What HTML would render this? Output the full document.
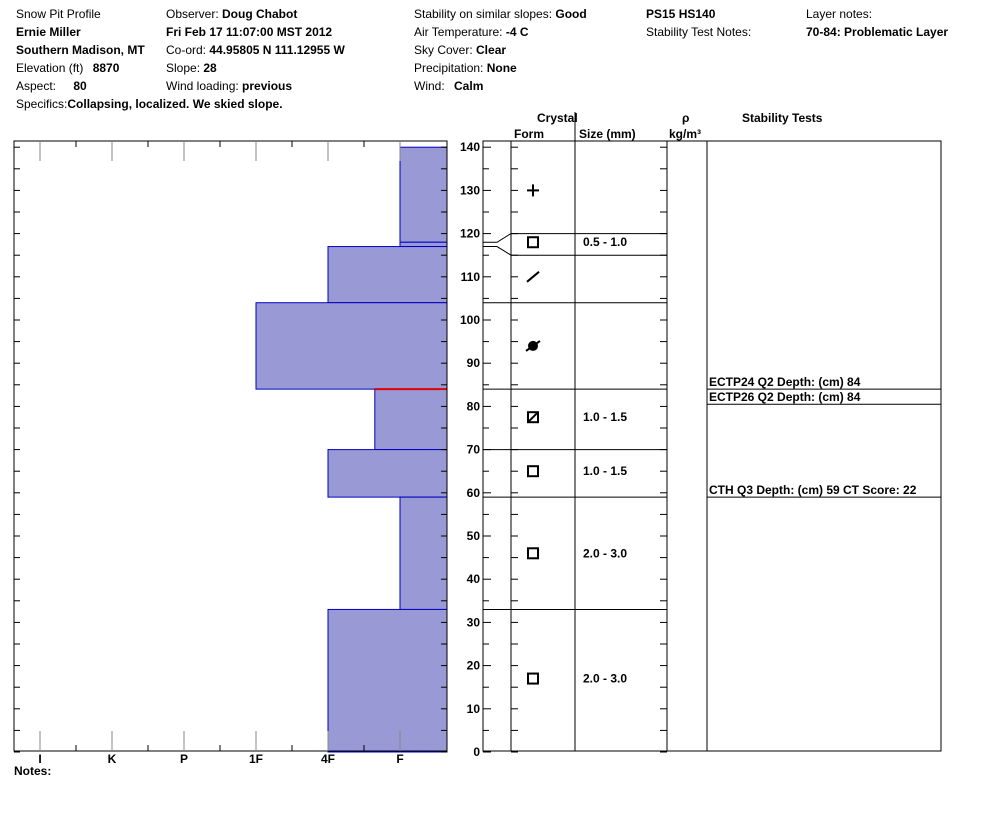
<!DOCTYPE html>
<html><head><meta charset="utf-8"><style>
body{margin:0;background:#fff;}
svg{display:block;font-family:"Liberation Sans",Arial,sans-serif;font-size:12px;}
.b{font-weight:bold;}
</style></head><body>
<svg width="994" height="840" viewBox="0 0 994 840">
<g font-size="12">
<text x="16" y="18">Snow Pit Profile</text>
<text x="16" y="36" class="b">Ernie Miller</text>
<text x="16" y="54" class="b">Southern Madison, MT</text>
<text x="16" y="72">Elevation (ft)  <tspan class="b" dx="6">8870</tspan></text>
<text x="16" y="90">Aspect:  <tspan class="b" dx="14">80</tspan></text>
<text x="16" y="108">Specifics:<tspan class="b">Collapsing, localized. We skied slope.</tspan></text>
<text x="166" y="18">Observer:  <tspan class="b">Doug Chabot</tspan></text>
<text x="166" y="36" class="b">Fri Feb 17 11:07:00 MST 2012</text>
<text x="166" y="54">Co-ord:  <tspan class="b">44.95805 N 111.12955 W</tspan></text>
<text x="166" y="72">Slope:  <tspan class="b">28</tspan></text>
<text x="166" y="90">Wind loading:  <tspan class="b">previous</tspan></text>
<text x="414" y="18">Stability on similar slopes:  <tspan class="b">Good</tspan></text>
<text x="414" y="36">Air Temperature:  <tspan class="b">-4 C</tspan></text>
<text x="414" y="54">Sky Cover:  <tspan class="b">Clear</tspan></text>
<text x="414" y="72">Precipitation:  <tspan class="b">None</tspan></text>
<text x="414" y="90">Wind:   <tspan class="b" dx="6">Calm</tspan></text>
<text x="646" y="18" class="b">PS15 HS140</text>
<text x="646" y="36">Stability Test Notes:</text>
<text x="806" y="18">Layer notes:</text>
<text x="806" y="36" class="b">70-84: Problematic Layer</text>
</g>
<g class="b">
<text x="537" y="122">Crystal</text>
<text x="514" y="138">Form</text>
<text x="579" y="138">Size (mm)</text>
<text x="682" y="122">ρ</text>
<text x="669" y="138">kg/m³</text>
<text x="742" y="122">Stability Tests</text>
</g>
<line x1="575" y1="112" x2="575" y2="141" stroke="#000"/>
<g id="left"></g>
<g id="mid"></g>
<g id="grid"></g>
<text x="14" y="775" class="b">Notes:</text>
</svg>
<script>
const layerTop=[140,118,117,104,84,70,59,33];
const layerBot=[118,117,104,84,70,59,33,0];
const layerHard=[5,5,4,3,4.65,4,5,4];
const hardLabels=["I","K","P","1F","4F","F"];
const depthTicks=[0,10,20,30,40,50,60,70,80,90,100,110,120,130,140];
const crystalBounds=[120,115,104,84,70,59,33];
const crystalForms=["plus","square","slash","round","hatched","square","square","square"];
const crystalDepth=[130,118,110,94,77.5,65,46,17];
const sizeLabels=["0.5 - 1.0","1.0 - 1.5","1.0 - 1.5","2.0 - 3.0","2.0 - 3.0"];
const sizeDepth=[118,77.5,65,46,17];
const testLabels=["ECTP24 Q2 Depth: (cm) 84","ECTP26 Q2 Depth: (cm) 84","CTH Q3 Depth: (cm) 59 CT Score: 22"];
const testLineDepth=[84,80.5,59];
const redDepth=84, redHard=4.65;

const NS="http://www.w3.org/2000/svg";
const y=d=>752-d*4.32;
const x=h=>40+72*h;
const L=14,R=447,T=141,B=751;
function mk(p,t,a){const e=document.createElementNS(NS,t);for(const k in a)e.setAttribute(k,a[k]);p.appendChild(e);return e;}
const left=document.getElementById('left'),mid=document.getElementById('mid'),grid=document.getElementById('grid');
// bars
layerTop.forEach((t,i)=>{
 const bar=mk(left,'rect',{x:x(layerHard[i]),y:y(t),width:R-x(layerHard[i]),height:y(layerBot[i])-y(t),fill:'#9999d5',stroke:'#0000c0','stroke-width':1});
 
 
});
const red=mk(left,'line',{x1:x(redHard),y1:y(redDepth),x2:R,y2:y(redDepth),stroke:'#e00000','stroke-width':2});


mk(left,'rect',{x:L,y:T,width:R-L,height:B-T,fill:'none',stroke:'#000'});
for(let d=0;d<=140;d+=5){mk(left,'line',{x1:L,y1:y(d),x2:L+6,y2:y(d),stroke:'#000'});mk(left,'line',{x1:R-6,y1:y(d),x2:R,y2:y(d),stroke:'#000'});}
hardLabels.forEach((lb,i)=>{
 mk(left,'line',{x1:x(i),y1:T,x2:x(i),y2:T+20,stroke:'#888'});
 mk(left,'line',{x1:x(i),y1:B-20,x2:x(i),y2:B,stroke:'#888'});
 if(i<5){mk(left,'line',{x1:x(i)+36,y1:T,x2:x(i)+36,y2:T+6,stroke:'#000'});mk(left,'line',{x1:x(i)+36,y1:B-6,x2:x(i)+36,y2:B,stroke:'#000'});}
 const t=mk(left,'text',{x:x(i),y:763,'text-anchor':'middle','font-weight':'bold'});t.textContent=lb;
 
 
});
// depth axis
depthTicks.forEach(d=>{
 const t=mk(mid,'text',{x:480,y:y(d)+4,'text-anchor':'end','font-weight':'bold'});t.textContent=d;
 
 
});
// table columns
[[483,511],[511,575],[575,667],[667,707],[707,941]].forEach(c=>mk(grid,'rect',{x:c[0],y:T,width:c[1]-c[0],height:B-T,fill:'none',stroke:'#000'}));
for(let d=0;d<=140;d+=5){
 const l=d%10==0?8:6;
 mk(grid,'line',{x1:483,y1:y(d),x2:483+l,y2:y(d),stroke:'#000'});
 mk(grid,'line',{x1:511,y1:y(d),x2:518,y2:y(d),stroke:'#000'});
 mk(grid,'line',{x1:660,y1:y(d),x2:667,y2:y(d),stroke:'#000'});
}
crystalBounds.forEach(d=>mk(grid,'line',{x1:511,y1:y(d),x2:667,y2:y(d),stroke:'#000'}));
crystalBounds.slice(2).forEach(d=>mk(grid,'line',{x1:483,y1:y(d),x2:511,y2:y(d),stroke:'#000'}));
mk(grid,'polyline',{points:`483,${y(118)} 497,${y(118)} 511,${y(120)}`,fill:'none',stroke:'#000'});
mk(grid,'polyline',{points:`483,${y(117)} 497,${y(117)} 511,${y(115)}`,fill:'none',stroke:'#000'});
crystalForms.forEach((f,i)=>{
 const cx=533,cy=y(crystalDepth[i]);
 const g=mk(grid,'g',{});
 
 
 if(f=='plus'){mk(g,'line',{x1:cx-6,y1:cy,x2:cx+6,y2:cy,stroke:'#000','stroke-width':2});mk(g,'line',{x1:cx,y1:cy-6,x2:cx,y2:cy+6,stroke:'#000','stroke-width':2});}
 else if(f=='slash'){mk(g,'line',{x1:cx-6,y1:cy+5,x2:cx+6,y2:cy-5,stroke:'#000','stroke-width':2});}
 else if(f=='round'){mk(g,'circle',{cx:cx,cy:cy,r:5,fill:'#000'});mk(g,'line',{x1:cx-7,y1:cy+5,x2:cx+7,y2:cy-5,stroke:'#000','stroke-width':2});}
 else{mk(g,'rect',{x:cx-5,y:cy-5,width:10,height:10,fill:'none',stroke:'#000','stroke-width':2});if(f=='hatched')mk(g,'line',{x1:cx-5,y1:cy+5,x2:cx+5,y2:cy-5,stroke:'#000','stroke-width':2});}
});
sizeLabels.forEach((s,i)=>{
 const t=mk(grid,'text',{x:583,y:y(sizeDepth[i])+4,'font-weight':'bold'});t.textContent=s;
 
 
});
testLabels.forEach((s,i)=>{
 mk(grid,'line',{x1:707,y1:y(testLineDepth[i]),x2:941,y2:y(testLineDepth[i]),stroke:'#000'});
 const t=mk(grid,'text',{x:709,y:y(testLineDepth[i])-3,'font-weight':'bold'});t.textContent=s;
 
 
});
</script>
</body></html>
